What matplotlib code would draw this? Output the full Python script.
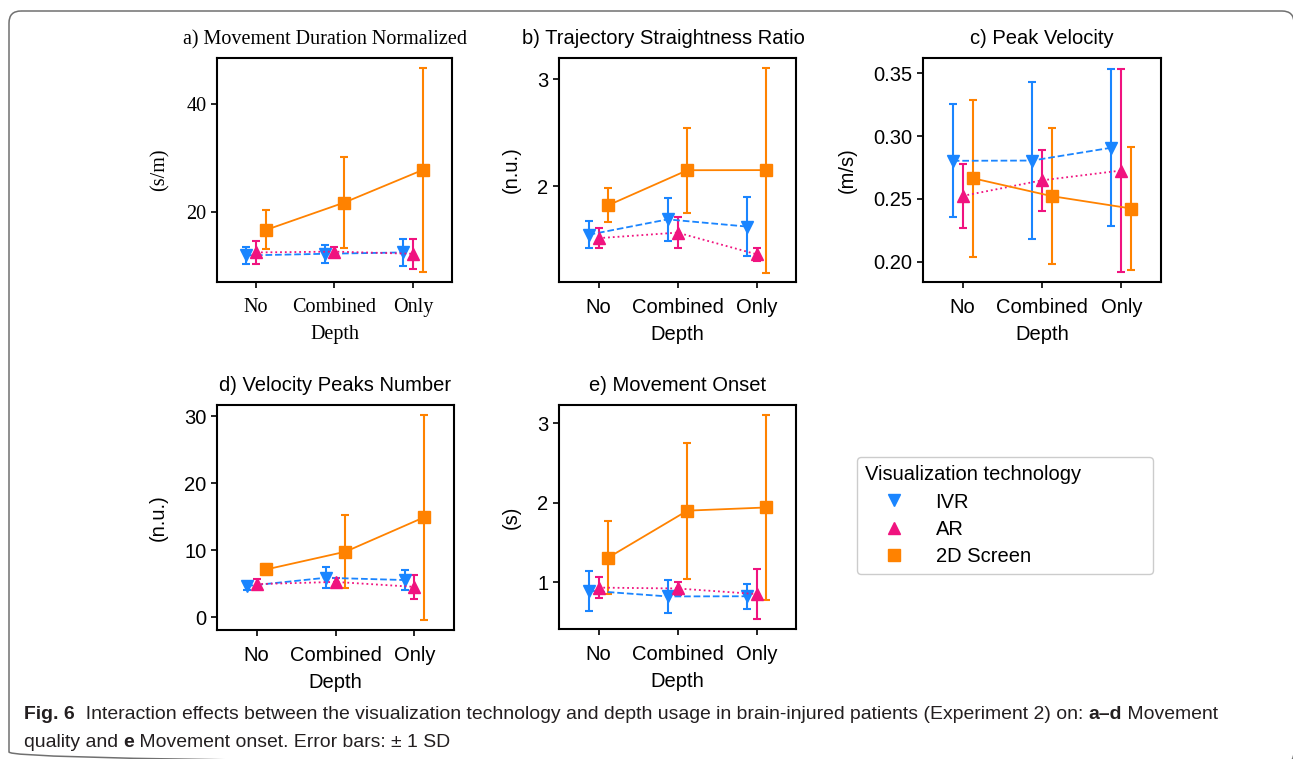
import matplotlib
matplotlib.use("Agg")
import matplotlib.pyplot as plt
import numpy as np
from matplotlib.lines import Line2D
from matplotlib.patches import FancyBboxPatch
from matplotlib import font_manager

W, H = 1293, 759

# ---- data (mean, SD) for depth levels No / Combined / Only ----
depth = ["No", "Combined", "Only"]
techs = ["IVR", "AR", "2D Screen"]

dur_ivr, dur_ivr_sd = [12.0, 12.3, 12.55], [1.5, 1.7, 2.55]
dur_ar, dur_ar_sd = [12.55, 12.7, 12.3], [2.05, 0.8, 2.8]
dur_2d, dur_2d_sd = [16.7, 21.75, 27.75], [3.6, 8.45, 18.85]

tsr_ivr, tsr_ivr_sd = [1.543, 1.687, 1.62], [0.127, 0.198, 0.278]
tsr_ar, tsr_ar_sd = [1.511, 1.563, 1.36], [0.094, 0.146, 0.06]
tsr_2d, tsr_2d_sd = [1.82, 2.148, 2.149], [0.16, 0.40, 0.96]

pv_ivr, pv_ivr_sd = [0.2803, 0.2805, 0.2907], [0.0448, 0.0625, 0.0625]
pv_ar, pv_ar_sd = [0.2524, 0.2648, 0.2726], [0.0256, 0.0243, 0.0806]
pv_2d, pv_2d_sd = [0.2665, 0.2522, 0.2424], [0.0625, 0.0542, 0.049]

vpn_ivr, vpn_ivr_sd = [4.67, 5.9, 5.56], [0.63, 1.57, 1.5]
vpn_ar, vpn_ar_sd = [4.95, 5.28, 4.54], [0.75, 0.65, 1.75]
vpn_2d, vpn_2d_sd = [7.15, 9.79, 14.95], [0.85, 5.41, 15.3]

ons_ivr, ons_ivr_sd = [0.893, 0.82, 0.822], [0.253, 0.213, 0.157]
ons_ar, ons_ar_sd = [0.931, 0.92, 0.85], [0.136, 0.078, 0.32]
ons_2d, ons_2d_sd = [1.31, 1.90, 1.94], [0.46, 0.857, 1.16]

colors = ["#1a85ff", "#f0137f", "#ff8200"]
markers = ["v", "^", "s"]
styles = ["--", ":", "-"]
offsets = [-0.125, 0.0, 0.125]

SANS = "Liberation Sans"
SERIF = "Liberation Serif"
FS = 14.5

fig = plt.figure(figsize=(W / 100, H / 100), dpi=100)

# outer rounded frame
bg = fig.add_axes([0, 0, 1, 1], zorder=-5)
bg.set_xlim(0, W)
bg.set_ylim(H, 0)
bg.axis("off")
bg.add_patch(FancyBboxPatch((9, 11), 1285, 753, boxstyle="round,pad=0,rounding_size=12",
                            fc="none", ec="#707070", lw=1.1))


def ax_rect(l, t, r, b):
    return [l / W, 1 - b / H, (r - l) / W, (b - t) / H]


def panel(rect, title, ylabel, series, ylim, yticks, ytl, family, tx=0.5):
    ax = fig.add_axes(rect)
    x = np.arange(len(depth))
    for (m, sd), c, mk, ls, off in zip(series, colors, markers, styles, offsets):
        ax.errorbar(x + off, m, yerr=sd, fmt=mk, ls=ls, color=c, lw=1.3,
                    elinewidth=1.5, capsize=3.2, capthick=1.5, markersize=8.5)
    ax.set_xlim(-0.5, 2.5)
    ax.set_ylim(*ylim)
    ax.set_xticks(x)
    ax.set_xticklabels(depth, family=family, fontsize=FS)
    ax.set_yticks(yticks)
    ax.set_yticklabels(ytl, family=family, fontsize=FS)
    ax.set_xlabel("Depth", family=family, fontsize=FS, labelpad=6)
    ax.set_ylabel(ylabel, family=family, fontsize=FS, labelpad=12)
    ax.set_title(title, family=family, fontsize=FS, pad=10, x=tx)
    for s in ax.spines.values():
        s.set_linewidth(1.5)
    ax.tick_params(width=1.2, length=4, color="black", labelcolor="black")
    ax.tick_params(axis="x", pad=7.5)
    return ax


panel(ax_rect(217, 58, 452, 282), "a) Movement Duration Normalized", "(s/m)",
      [(dur_ivr, dur_ivr_sd), (dur_ar, dur_ar_sd), (dur_2d, dur_2d_sd)],
      (7.1, 48.4), [20, 40], ["20", "40"], SERIF, tx=0.46)
panel(ax_rect(559, 58, 796, 282), "b) Trajectory Straightness Ratio", "(n.u.)",
      [(tsr_ivr, tsr_ivr_sd), (tsr_ar, tsr_ar_sd), (tsr_2d, tsr_2d_sd)],
      (1.10, 3.20), [2, 3], ["2", "3"], SANS, tx=0.44)
panel(ax_rect(923, 58, 1161, 282), "c) Peak Velocity", "(m/s)",
      [(pv_ivr, pv_ivr_sd), (pv_ar, pv_ar_sd), (pv_2d, pv_2d_sd)],
      (0.184, 0.362), [0.20, 0.25, 0.30, 0.35], ["0.20", "0.25", "0.30", "0.35"], SANS)
panel(ax_rect(217, 405, 454, 630), "d) Velocity Peaks Number", "(n.u.)",
      [(vpn_ivr, vpn_ivr_sd), (vpn_ar, vpn_ar_sd), (vpn_2d, vpn_2d_sd)],
      (-1.9, 31.7), [0, 10, 20, 30], ["0", "10", "20", "30"], SANS)
panel(ax_rect(559, 405, 796, 629), "e) Movement Onset", "(s)",
      [(ons_ivr, ons_ivr_sd), (ons_ar, ons_ar_sd), (ons_2d, ons_2d_sd)],
      (0.41, 3.23), [1, 2, 3], ["1", "2", "3"], SANS)

# legend (box stretched to a fixed width like the original)
handles = [Line2D([], [], ls="none", marker=mk, color=c, markersize=8)
           for mk, c in zip(markers, colors)]
leg = fig.legend(handles, techs, title="Visualization technology",
                 loc="upper left",
                 bbox_to_anchor=(857 / W, 1 - 577 / H, (1153 - 857) / W, 120 / H),
                 mode="expand", borderaxespad=0,
                 prop={"family": SANS, "size": FS},
                 title_fontproperties={"family": SANS, "size": FS},
                 handlelength=2.9, handletextpad=0.6, labelspacing=0.42,
                 frameon=True, edgecolor="#cccccc", framealpha=1)
leg._legend_box.align = "left"

# caption with bold pieces
names = {f.name for f in font_manager.fontManager.ttflist}
cap_family = "Liberation Sans Narrow" if "Liberation Sans Narrow" in names else SANS
cap_color = "#231f20"
line1 = [("Fig. 6", True), ("  Interaction effects between the visualization technology and depth usage in "
         "brain-injured patients (Experiment 2) on: ", False), ("a\u2013d", True), (" Movement", False)]
line2 = [("quality and ", False), ("e", True), (" Movement onset. Error bars: \u00b1 1 SD", False)]

renderer = fig.canvas.get_renderer()


def adv(txt, bold, size):
    t1 = fig.text(0, 0, txt + "|", fontsize=size, family=cap_family,
                  fontweight="bold" if bold else "normal")
    t2 = fig.text(0, 0, "|", fontsize=size, family=cap_family,
                  fontweight="bold" if bold else "normal")
    w = t1.get_window_extent(renderer).width - t2.get_window_extent(renderer).width
    t1.remove()
    t2.remove()
    return w


base = sum(adv(t, b, 10) for t, b in line1)
cap_size = 10 * (1220 - 24) / base


def rich(runs, x0, ybase):
    x = x0
    for t, b in runs:
        fig.text(x / W, 1 - ybase / H, t, fontsize=cap_size, family=cap_family,
                 fontweight="bold" if b else "normal", va="baseline", ha="left",
                 color=cap_color)
        x += adv(t, b, cap_size)


rich(line1, 24, 719)
rich(line2, 24, 747)

fig.savefig("out.png", dpi=100)
